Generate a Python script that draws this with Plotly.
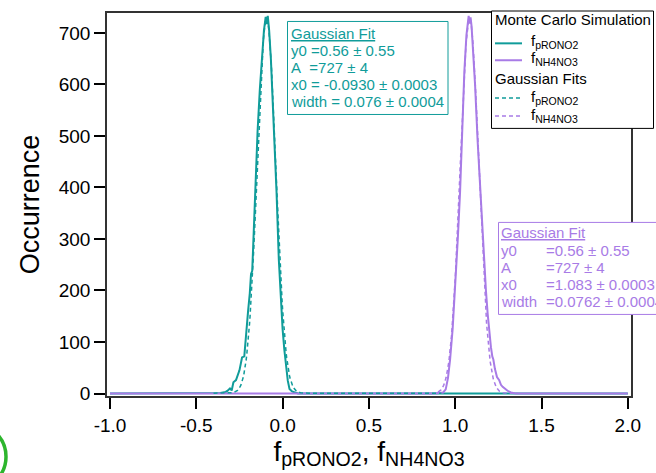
import numpy as np
import plotly.graph_objects as go

# ---------------------------------------------------------------- data
# Monte Carlo simulation histogram of f_pRONO2
prono2_x = [-1.0, -0.40, -0.36, -0.33, -0.32, -0.305, -0.295, -0.285, -0.27, -0.25,
            -0.235, -0.222, -0.212, -0.20, -0.19, -0.183, -0.176, -0.168, -0.158,
            -0.145, -0.132, -0.12, -0.108, -0.098, -0.093, -0.086, -0.078, -0.068,
            -0.058, -0.048, -0.035, -0.022, -0.01, 0.0, 0.01, 0.02, 0.03, 0.04,
            0.055, 0.07, 0.09, 2.0]
prono2_n = [0, 0, 1, 3, 5, 10, 6, 22, 26, 45,
            70, 72, 117, 160, 195, 232, 238, 316, 412,
            509, 590, 655, 705, 731, 717, 733, 705, 650,
            580, 509, 390, 260, 175, 125, 85, 50, 25, 9,
            4, 2, 0, 0]

# Monte Carlo simulation histogram of f_NH4NO3
nh4no3_x = [-1.0, 0.88, 0.93, 0.945, 0.958, 0.97, 0.985, 1.0, 1.015, 1.028, 1.04,
            1.053, 1.065, 1.072, 1.078, 1.083, 1.089, 1.095, 1.101, 1.115, 1.13,
            1.149, 1.16, 1.169, 1.178, 1.188, 1.198, 1.207, 1.215, 1.221, 1.23,
            1.242, 1.255, 1.265, 1.275, 1.29, 1.298, 1.31, 1.323, 1.35, 2.0]
nh4no3_n = [0, 0, 2, 8, 30, 65, 125, 205, 300, 390, 510,
            625, 695, 722, 733, 718, 730, 712, 680, 600, 490,
            370, 290, 232, 200, 155, 118, 90, 72, 66, 48,
            32, 26, 17, 13, 8, 7, 4, 2, 0, 0]

# Gaussian fit results: y = y0 + A*exp(-((x - x0)/width)^2)
fit_prono2 = {"y0": 0.56, "A": 727, "x0": -0.0930, "width": 0.076}
fit_nh4no3 = {"y0": 0.56, "A": 727, "x0": 1.083, "width": 0.0762}
fit_prono2_span = (-0.40, 0.92)
fit_nh4no3_span = (0.90, 1.36)

x_tickvals = [-1.0, -0.5, 0.0, 0.5, 1.0, 1.5, 2.0]
x_ticktext = ["-1.0", "-0.5", "0.0", "0.5", "1.0", "1.5", "2.0"]
y_tickvals = [0, 100, 200, 300, 400, 500, 600, 700]
y_ticktext = [str(v) for v in y_tickvals]

# ---------------------------------------------------------------- style
W, H = 656, 473
ML, MR, MT, MB = 107, 25, 11, 77
PW, PH = W - ML - MR, H - MT - MB
TEAL = "#109c9a"
PURPLE = "#a87be6"
FONT = "Liberation Sans, Arial, sans-serif"


def gauss_curve(p, span):
    x = np.linspace(span[0], span[1], 400)
    return x, p["y0"] + p["A"] * np.exp(-((x - p["x0"]) / p["width"]) ** 2)


def fx(px):
    """page pixel column -> paper x"""
    return (px - ML) / PW


def fy(py):
    """page pixel row -> paper y"""
    return (H - MB - py) / PH


fig = go.Figure()
fig.add_trace(go.Scatter(x=prono2_x, y=prono2_n, mode="lines",
                         line=dict(color=TEAL, width=2), showlegend=False))
fig.add_trace(go.Scatter(x=nh4no3_x, y=nh4no3_n, mode="lines",
                         line=dict(color=PURPLE, width=2), showlegend=False))
gx, gy = gauss_curve(fit_prono2, fit_prono2_span)
fig.add_trace(go.Scatter(x=gx, y=gy, mode="lines",
                         line=dict(color=TEAL, width=1.5, dash="4px,3px"),
                         showlegend=False))
gx, gy = gauss_curve(fit_nh4no3, fit_nh4no3_span)
fig.add_trace(go.Scatter(x=gx, y=gy, mode="lines",
                         line=dict(color=PURPLE, width=1.5, dash="4px,3px"),
                         showlegend=False))

shapes = []
annotations = []


def text(px, py, s, color="black", size=15, under=False):
    annotations.append(dict(
        x=fx(px), y=fy(py), xref="paper", yref="paper", text=s,
        showarrow=False, xanchor="left", yanchor="middle",
        font=dict(family=FONT, size=size, color=color,
                  lineposition="under" if under else "none"),
    ))


def box(x0, y0, x1, y1, color):
    shapes.append(dict(type="rect", xref="paper", yref="paper",
                       x0=fx(x0), x1=fx(x1), y0=fy(y1), y1=fy(y0),
                       line=dict(color=color, width=1), fillcolor="white",
                       layer="above"))


def sample(x0, x1, py, color, dash):
    shapes.append(dict(type="line", xref="paper", yref="paper",
                       x0=fx(x0), x1=fx(x1), y0=fy(py), y1=fy(py),
                       line=dict(color=color, width=2 if dash == "solid" else 1.5,
                                 dash=dash), layer="above"))


# legend
box(491.5, 9, 653.5, 127, "black")
text(493, 18, "Monte Carlo Simulation")
sample(495, 522, 41.5, TEAL, "solid")
text(529, 40, "f<sub>pRONO2</sub>")
sample(495, 522, 58.5, PURPLE, "solid")
text(529, 57, "f<sub>NH4NO3</sub>")
text(493, 77, "Gaussian Fits")
sample(495, 522, 96.5, TEAL, "4px,3px")
text(529, 96, "f<sub>pRONO2</sub>")
sample(495, 522, 114.5, PURPLE, "4px,3px")
text(529, 114, "f<sub>NH4NO3</sub>")

# fit results, f_pRONO2
box(287.5, 19.5, 448, 113, TEAL)
text(289, 31.5, "Gaussian Fit", TEAL, under=True)
text(289, 48.5, "y0 =0.56 ± 0.55", TEAL)
text(289, 65.5, "A\u00a0\u00a0=727 ± 4", TEAL)
text(289, 83, "x0 = -0.0930 ± 0.0003", TEAL)
text(289, 100, "width = 0.076 ± 0.0004", TEAL)

# fit results, f_NH4NO3
box(498.5, 221.5, 680, 314, PURPLE)
text(499, 232, "Gaussian Fit", PURPLE, under=True)
rows = [("y0", "=0.56 ± 0.55"), ("A", "=727 ± 4"),
        ("x0", "=1.083 ± 0.0003"), ("width", "=0.0762 ± 0.0004")]
for i, (k, v) in enumerate(rows):
    yy = 250 + i * 17
    text(499, yy, k, PURPLE)
    text(544, yy, v, PURPLE)

# green ring in the lower-left corner
shapes.append(dict(type="circle", xref="paper", yref="paper",
                   x0=fx(-59.5), x1=fx(6), y0=fy(490), y1=fy(424),
                   line=dict(color="#2db52d", width=3.5), layer="above"))

fig.update_layout(
    width=W, height=H,
    margin=dict(l=ML, r=MR, t=MT, b=MB, pad=0),
    paper_bgcolor="white", plot_bgcolor="white",
    font=dict(family=FONT, color="black"),
    showlegend=False,
    shapes=shapes, annotations=annotations,
)
fig.update_xaxes(
    range=[-1.0174, 2.0185], tickvals=x_tickvals, ticktext=x_ticktext,
    ticks="outside", ticklen=11, tickwidth=1.5, tickcolor="black",
    tickfont=dict(size=19), showgrid=False, zeroline=False,
    showline=True, linecolor="#333333", linewidth=1.5, mirror=True,
    title=dict(text="f<sub>pRONO2</sub>, f<sub>NH4NO3</sub>",
               font=dict(size=28), standoff=5),
)
fig.update_yaxes(
    range=[-4.8, 738.6], tickvals=y_tickvals, ticktext=y_ticktext,
    ticks="outside", ticklen=11, tickwidth=1.5, tickcolor="black",
    tickfont=dict(size=19), showgrid=False, zeroline=False,
    showline=True, linecolor="#333333", linewidth=1.5, mirror=True,
    title=dict(text="Occurrence", font=dict(size=27), standoff=11),
)

fig.write_html("out.html")
